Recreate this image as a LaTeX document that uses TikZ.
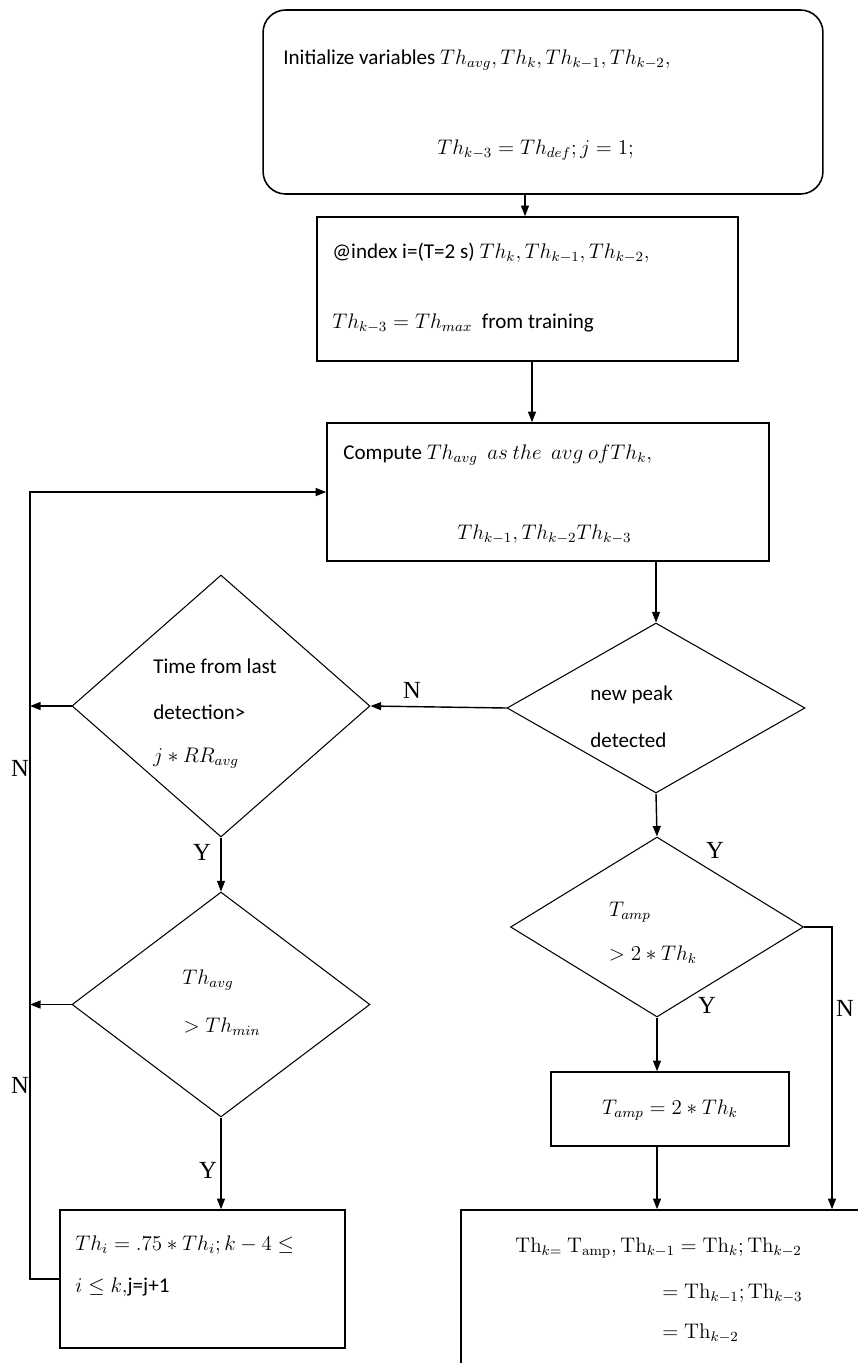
\documentclass[tikz,border=0pt]{standalone}
\usepackage[no-math]{fontspec}
\setmainfont{Carlito}
\newfontfamily\ynfont{Liberation Serif}
\usetikzlibrary{shapes.geometric,arrows.meta}
\begin{document}
\begin{tikzpicture}[x=0.02cm,y=-0.02cm,
  boxst/.style={draw,line width=0.9pt,inner sep=0pt,minimum width=#1},
  dia/.style={draw,diamond,line width=0.6pt,inner sep=0pt,aspect=1},
  txt/.style={inner sep=0pt,anchor=west,font=\fontsize{12}{14}\selectfont},
  ctxt/.style={inner sep=0pt,font=\fontsize{12}{14}\selectfont},
  yn/.style={inner sep=0pt,font=\ynfont\fontsize{14}{16}\selectfont},
  arr/.style={line width=0.8pt,-{Triangle[length=6pt,width=4.5pt]}},
  ln/.style={line width=0.8pt}]
\useasboundingbox (0,0) rectangle (858,1363);
\clip (0,0) rectangle (858,1363);
\fill[white] (0,0) rectangle (858,1363);

% nodes
\node[boxst=11.2cm,minimum height=3.68cm,rounded corners=0.45cm] (start) at (543,102) {};
\node[boxst=8.42cm,minimum height=2.88cm] (b2) at (527.5,289) {};
\node[boxst=8.84cm,minimum height=2.76cm] (b3) at (548,492) {};
\node[dia,minimum width=5.96cm,minimum height=3.4cm] (d1) at (656,708) {};
\node[dia,minimum width=5.96cm,minimum height=5.24cm] (d2) at (221,706) {};
\node[dia,minimum width=5.96cm,minimum height=4.5cm] (d3) at (221,1004.5) {};
\node[dia,minimum width=5.86cm,minimum height=3.6cm] (d4) at (657,927) {};
\node[boxst=5.7cm,minimum height=2.76cm] (b4) at (202.5,1279) {};
\node[boxst=4.76cm,minimum height=1.48cm] (b5) at (670,1109) {};
\node[boxst=8.38cm,minimum height=3.4cm] (b6) at (670.5,1295) {};

% helper coordinates
\coordinate (ax1) at (525,0);
\coordinate (ax2) at (532,0);
\coordinate (lx) at (30,0);
\coordinate (rx) at (832,0);

% texts
\node[txt] (t1a) at (283,60) {Initialize variables $Th_{avg},Th_k,Th_{k-1},Th_{k-2},$};
\node[txt] (t1b) at (437,150) {$Th_{k-3}=Th_{def};j=1;$};
\node[txt] (t2a) at (332,253) {@index i=(T=2 s) $Th_k,Th_{k-1},Th_{k-2},$};
\node[txt] (t2b) at (332,323) {$Th_{k-3}=Th_{max}$\ \ from training};
\node[txt] (t3a) at (343,455) {Compute $Th_{avg}$\ \ $as\ the\ \ avg\ of Th_{k},$};
\node[txt] (t3b) at (457,534) {$Th_{k-1},Th_{k-2}Th_{k-3}$};
\node[txt] (td1a) at (590,695) {new peak};
\node[txt] (td1b) at (590,740) {detected};
\node[txt] (td2a) at (153,666) {Time from last};
\node[txt] (td2b) at (153,712) {detection>};
\node[txt] (td2c) at (153,758) {$j*RR_{avg}$};
\node[ctxt] (td3a) at (208,980) {$Th_{avg}$};
\node[ctxt] (td3b) at (222,1027) {$>Th_{min}$};
\node[ctxt] (td4a) at (630,912) {$T_{amp}$};
\node[ctxt] (td4b) at (653,955) {$>2*Th_k$};
\node[ctxt] (tb5) at (670,1110) {$T_{amp}=2*Th_k$};
\node[txt] (tb4a) at (75,1245) {$Th_i=.75*Th_i;k-4\leq$};
\node[txt] (tb4b) at (75,1287) {$i\leq k,$j=j+1};
\node[txt] (tb6a) at (515,1248) {$\mathrm{Th}_{k=}\ \mathrm{T}_{\mathrm{amp}},\mathrm{Th}_{k-1}=\mathrm{Th}_k;\mathrm{Th}_{k-2}$};
\node[txt] (tb6b) at (662,1293) {$=\mathrm{Th}_{k-1};\mathrm{Th}_{k-3}$};
\node[txt] (tb6c) at (662,1333) {$=\mathrm{Th}_{k-2}$};

% Y/N labels
\node[yn] (n1) at (412,690) {N};
\node[yn] (n2) at (20,768) {N};
\node[yn] (y1) at (202,852) {Y};
\node[yn] (n3) at (20,1085) {N};
\node[yn] (y2) at (208,1170) {Y};
\node[yn] (y3) at (715,850) {Y};
\node[yn] (y4) at (707,1005) {Y};
\node[yn] (n4) at (845,1008) {N};

% connectors
\draw[arr] (start.south -| ax1) -- (b2.north -| ax1);
\draw[arr] (b2.south -| ax2) -- (b3.north -| ax2);
\draw[arr] (b3.south -| d1.north) -- (d1.north);
\draw[arr] (d1.west) -- (d2.east);
\draw[arr] (d2.west) -- (d2.west -| lx);
\draw[arr] (d2.south) -- (d3.north);
\draw[arr] (d3.west) -- (d3.west -| lx);
\draw[arr] (d3.south) -- (d3.south |- b4.north);
\draw[arr] (b4.west) -- (b4.west -| lx) -- (lx |- b3.west) -- (b3.west);
\draw[arr] (d1.south) -- (d4.north);
\draw[arr] (d4.south) -- (d4.south |- b5.north);
\draw[arr] (b5.south -| d4.south) -- (b6.north -| d4.south);
\draw[arr] (d4.east) -- (d4.east -| rx) -- (rx |- b6.north);
\end{tikzpicture}
\end{document}
